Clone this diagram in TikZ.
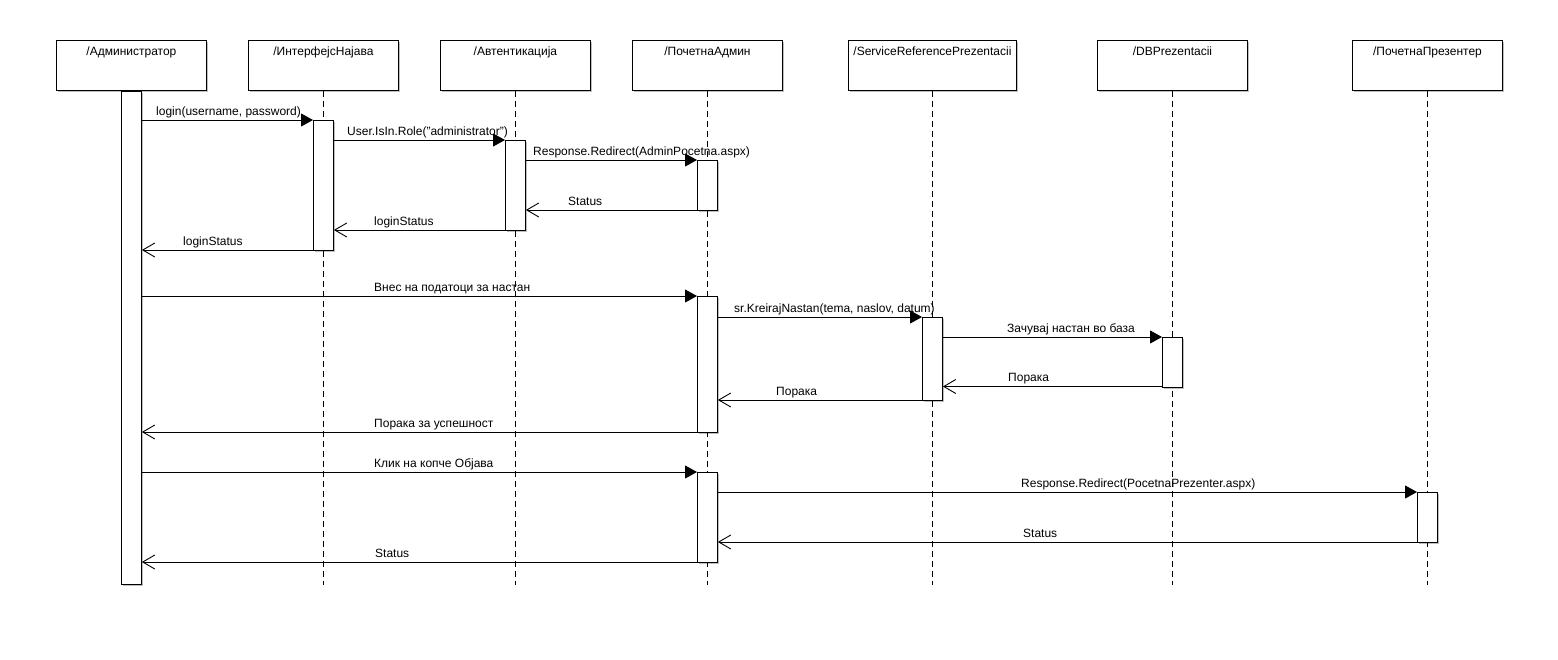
\documentclass[tikz,border=0pt]{standalone}
\usepackage{fontspec}
\setmainfont{Liberation Sans}
\usetikzlibrary{arrows.meta,shadows}
\begin{document}
\begin{tikzpicture}[x=1pt,y=-1pt,
  font=\fontsize{12}{14}\selectfont,
  shad/.style={drop shadow={shadow xshift=2pt,shadow yshift=-2pt,fill=black,opacity=0.25}},
  obj/.style={draw, fill=white, minimum height=50pt, inner sep=0, line width=0.9pt, anchor=north west, shad},
  ttl/.style={anchor=base, inner sep=0},
  act/.style={draw, fill=white, minimum width=20pt, inner sep=0, anchor=north, line width=0.9pt, shad},
  life/.style={line width=0.9pt, dash pattern=on 6pt off 4pt},
  call/.style={-{Triangle[length=12pt,width=13pt]}, line width=0.9pt},
  ret/.style={-{Straight Barb[length=12pt,width=14pt,line width=0.9pt]}, line width=0.9pt},
  lbl/.style={anchor=base west, inner sep=0}]
\useasboundingbox (0,0) rectangle (1558,659);

% object boxes
\node[obj, minimum width=150pt] (admin) at (56,40) {};
\node[obj, minimum width=150pt] (intf)  at (248,40) {};
\node[obj, minimum width=150pt] (auth)  at (440,40) {};
\node[obj, minimum width=150pt] (padm)  at (632,40) {};
\node[obj, minimum width=168pt] (sref)  at (848,40) {};
\node[obj, minimum width=150pt] (dbp)   at (1097,40) {};
\node[obj, minimum width=150pt] (pprz)  at (1352,40) {};

\node[ttl] (adminT) at (admin.north |- 0,55) {/Администратор};
\node[ttl] (intfT)  at (intf.north |- 0,55) {/ИнтерфејсНајава};
\node[ttl] (authT)  at (auth.north |- 0,55) {/Автентикација};
\node[ttl] (padmT)  at (padm.north |- 0,55) {/ПочетнаАдмин};
\node[ttl] (srefT)  at (sref.north |- 0,55) {/ServiceReferencePrezentacii};
\node[ttl] (dbpT)   at (dbp.north |- 0,55) {/DBPrezentacii};
\node[ttl] (pprzT)  at (pprz.north |- 0,55) {/ПочетнаПрезентер};

% lifelines
\foreach \o in {admin,intf,auth,padm,sref,dbp,pprz}
  \draw[life] (\o.south) -- (\o.south |- 0,585);

% activation bars
\node[act, minimum height=493pt] (a1) at (admin.south) {};
\node[act, minimum height=130pt] (i1) at (intf.south |- 0,120) {};
\node[act, minimum height=90pt]  (t1) at (auth.south |- 0,140) {};
\node[act, minimum height=50pt]  (p1) at (padm.south |- 0,160) {};
\node[act, minimum height=136pt] (p2) at (padm.south |- 0,296) {};
\node[act, minimum height=83pt]  (s1) at (sref.south |- 0,317) {};
\node[act, minimum height=50pt]  (d1) at (dbp.south |- 0,337) {};
\node[act, minimum height=90pt]  (p3) at (padm.south |- 0,472) {};
\node[act, minimum height=50pt]  (r1) at (pprz.south |- 0,492) {};

% messages
\draw[call] (a1.east |- 0,120) -- (i1.west |- 0,120);
\node[lbl] (m1) at (156,115) {login(username, password)};
\draw[call] (i1.east |- 0,140) -- (t1.west |- 0,140);
\node[lbl] (m2) at (347,135) {User.IsIn.Role("administrator")};
\draw[call] (t1.east |- 0,160) -- (p1.west |- 0,160);
\node[lbl] (m3) at (533,155) {Response.Redirect(AdminPocetna.aspx)};
\draw[ret] (p1.west |- 0,210) -- (t1.east |- 0,210);
\node[lbl] (m4) at (568,205) {Status};
\draw[ret] (t1.west |- 0,230) -- (i1.east |- 0,230);
\node[lbl] (m5) at (374,225) {loginStatus};
\draw[ret] (i1.west |- 0,250) -- (a1.east |- 0,250);
\node[lbl] (m6) at (183,245) {loginStatus};

\draw[call] (a1.east |- 0,296) -- (p2.west |- 0,296);
\node[lbl] (m7) at (374,291) {Внес на податоци за настан};
\draw[call] (p2.east |- 0,317) -- (s1.west |- 0,317);
\node[lbl] (m8) at (734,312) {sr.KreirajNastan(tema, naslov, datum)};
\draw[call] (s1.east |- 0,337) -- (d1.west |- 0,337);
\node[lbl] (m9) at (1007,332) {Зачувај настан во база};
\draw[ret] (d1.west |- 0,386.5) -- (s1.east |- 0,386.5);
\node[lbl] (m10) at (1008,381.5) {Порака};
\draw[ret] (s1.west |- 0,400) -- (p2.east |- 0,400);
\node[lbl] (m11) at (776,395) {Порака};
\draw[ret] (p2.west |- 0,432) -- (a1.east |- 0,432);
\node[lbl] (m12) at (374,427) {Порака за успешност};

\draw[call] (a1.east |- 0,472) -- (p3.west |- 0,472);
\node[lbl] (m13) at (374,467) {Клик на копче Објава};
\draw[call] (p3.east |- 0,492) -- (r1.west |- 0,492);
\node[lbl] (m14) at (1021,487) {Response.Redirect(PocetnaPrezenter.aspx)};
\draw[ret] (r1.west |- 0,542) -- (p3.east |- 0,542);
\node[lbl] (m15) at (1023,537) {Status};
\draw[ret] (p3.west |- 0,562) -- (a1.east |- 0,562);
\node[lbl] (m16) at (375,557) {Status};
\end{tikzpicture}
\end{document}
